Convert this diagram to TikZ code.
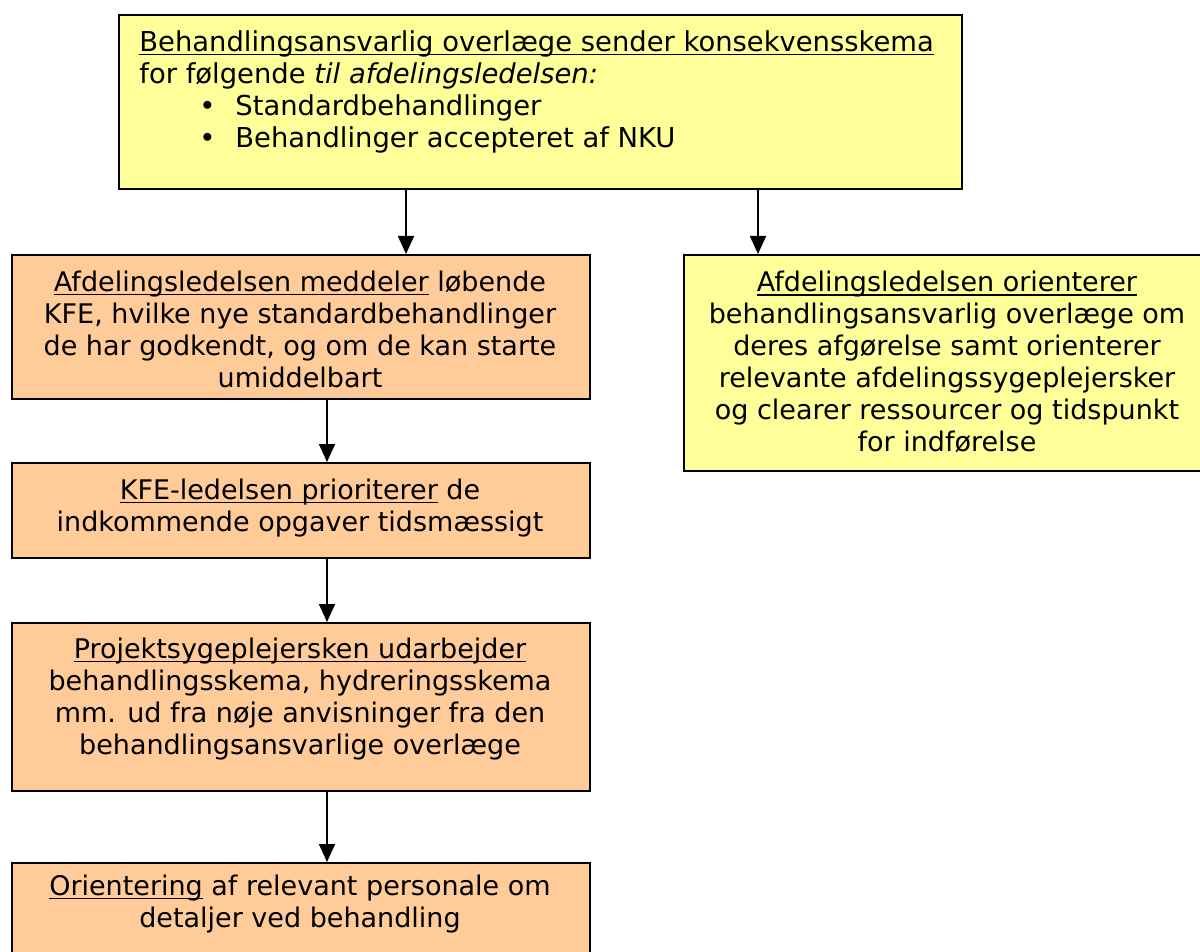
\documentclass[tikz,border=0pt]{standalone}
\usepackage{fontspec}
\setmainfont{DejaVu Sans}
\usetikzlibrary{arrows.meta}
\definecolor{boxyellow}{HTML}{FFFF99}
\definecolor{boxorange}{HTML}{FFCC99}
\newcommand\ulx[1]{\setbox0\hbox{#1}\rlap{\rule[-2pt]{\wd0}{0.7pt}}\box0\relax}
\newcommand\bulitem[1]{\hspace*{30pt}\makebox[18pt][l]{\textbullet}#1}
\begin{document}
\begin{tikzpicture}[x=0.5pt,y=-0.5pt,
  box/.style={draw=black,line width=1pt,anchor=north west,inner sep=0pt},
  ybox/.style={box,fill=boxyellow},
  obox/.style={box,fill=boxorange},
  txt/.style={font=\fontsize{13.5}{16}\selectfont,align=center,inner sep=0pt},
  arr/.style={-{Triangle[length=9pt,width=8pt]},line width=0.9pt}]
\useasboundingbox (0,0) rectangle (1200,952);
\clip (0,0) rectangle (1200,952);
% boxes
\node[ybox,minimum width=421.5pt,minimum height=87pt] (top) at (118,14) {};
\node[obox,minimum width=289pt,minimum height=72pt] (l1) at (11,254) {};
\node[obox,minimum width=289pt,minimum height=47.5pt] (l2) at (11,462) {};
\node[obox,minimum width=289pt,minimum height=84pt] (l3) at (11,622) {};
\node[obox,minimum width=289pt,minimum height=55pt] (l4) at (11,862) {};
\node[ybox,minimum width=264pt,minimum height=108pt] (r) at (683,254) {};
% texts
\node[txt,align=left,anchor=north west,font=\fontsize{13.7}{16}\selectfont] (ttop) at (139,30)
  {\ulx{Behandlingsansvarlig overlæge sender konsekvensskema}\\
   for følgende \textit{til afdelingsledelsen:}\\
   \bulitem{Standardbehandlinger}\\
   \bulitem{Behandlinger accepteret af NKU}};
\node[txt] (tl1) at (300,329)
  {\ulx{Afdelingsledelsen meddeler} løbende\\
   KFE, hvilke nye standardbehandlinger\\
   de har godkendt, og om de kan starte\\
   umiddelbart};
\node[txt] (tl2) at (300,508)
  {\ulx{KFE-ledelsen prioriterer} de\\
   indkommende opgaver tidsmæssigt};
\node[txt] (tl3) at (300,699)
  {\ulx{Projektsygeplejersken udarbejder}\\
   behandlingsskema, hydreringsskema\\
   mm. ud fra nøje anvisninger fra den\\
   behandlingsansvarlige overlæge};
\node[txt] (tl4) at (300,904)
  {\ulx{Orientering} af relevant personale om\\
   detaljer ved behandling};
\node[txt] (tr) at (947,362)
  {\ulx{Afdelingsledelsen orienterer}\\
   behandlingsansvarlig overlæge om\\
   deres afgørelse samt orienterer\\
   relevante afdelingssygeplejersker\\
   og clearer ressourcer og tidspunkt\\
   for indførelse};
% arrows
\draw[arr] (top.south -| 406,0) -- (l1.north -| 406,0);
\draw[arr] (top.south -| 758,0) -- (r.north -| 758,0);
\draw[arr] (l1.south -| 327,0) -- (l2.north -| 327,0);
\draw[arr] (l2.south -| 327,0) -- (l3.north -| 327,0);
\draw[arr] (l3.south -| 327,0) -- (l4.north -| 327,0);
\end{tikzpicture}
\end{document}
